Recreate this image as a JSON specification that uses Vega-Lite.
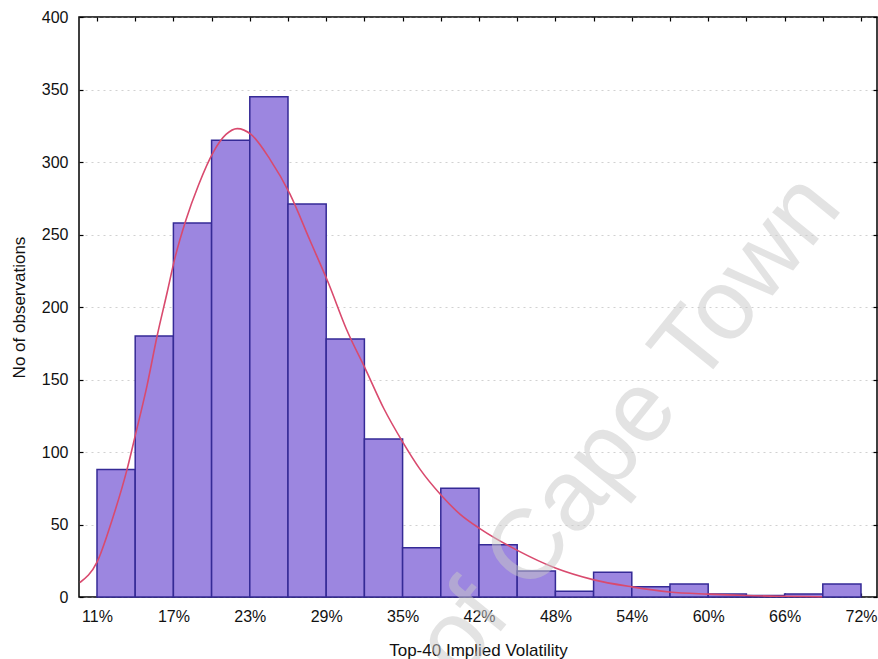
{
  "$schema": "https://vega.github.io/schema/vega-lite/v6.json",
  "width": 798,
  "height": 580,
  "autosize": {"type": "none"},
  "padding": {"left": 79, "top": 17, "right": 1, "bottom": 62},
  "background": "white",
  "config": {
    "font": "Liberation Sans",
    "view": {"stroke": "#000000", "strokeWidth": 1.5},
    "axis": {
      "labelFont": "Liberation Sans",
      "titleFont": "Liberation Sans",
      "labelFontSize": 16,
      "titleFontSize": 17,
      "titleFontWeight": "normal",
      "labelColor": "#111111",
      "titleColor": "#111111",
      "domain": false,
      "tickColor": "#000000",
      "tickWidth": 1.2
    }
  },
  "datasets": {
    "bars": [
      {"start": 11.00, "end": 14.05, "count": 88},
      {"start": 14.05, "end": 17.10, "count": 180},
      {"start": 17.10, "end": 20.15, "count": 258},
      {"start": 20.15, "end": 23.20, "count": 315},
      {"start": 23.20, "end": 26.25, "count": 345},
      {"start": 26.25, "end": 29.30, "count": 271},
      {"start": 29.30, "end": 32.35, "count": 178},
      {"start": 32.35, "end": 35.40, "count": 109},
      {"start": 35.40, "end": 38.45, "count": 34},
      {"start": 38.45, "end": 41.50, "count": 75},
      {"start": 41.50, "end": 44.55, "count": 36},
      {"start": 44.55, "end": 47.60, "count": 18},
      {"start": 47.60, "end": 50.65, "count": 4},
      {"start": 50.65, "end": 53.70, "count": 17},
      {"start": 53.70, "end": 56.75, "count": 7},
      {"start": 56.75, "end": 59.80, "count": 9},
      {"start": 59.80, "end": 62.85, "count": 2},
      {"start": 62.85, "end": 65.90, "count": 1},
      {"start": 65.90, "end": 68.95, "count": 2},
      {"start": 68.95, "end": 72.00, "count": 9}
    ],
    "curve": [
      {"vol": 9.64, "fit": 10},
      {"vol": 11.0, "fit": 24},
      {"vol": 12.2, "fit": 53},
      {"vol": 13.4, "fit": 88},
      {"vol": 14.1, "fit": 113},
      {"vol": 15.0, "fit": 146},
      {"vol": 15.8, "fit": 180},
      {"vol": 16.6, "fit": 210},
      {"vol": 17.2, "fit": 233},
      {"vol": 18.1, "fit": 260},
      {"vol": 19.1, "fit": 284},
      {"vol": 20.3, "fit": 307},
      {"vol": 21.3, "fit": 319},
      {"vol": 22.2, "fit": 323},
      {"vol": 23.3, "fit": 319},
      {"vol": 24.8, "fit": 302},
      {"vol": 26.4, "fit": 278},
      {"vol": 28.0, "fit": 246},
      {"vol": 29.5, "fit": 216},
      {"vol": 30.9, "fit": 185},
      {"vol": 32.5, "fit": 156},
      {"vol": 33.9, "fit": 130},
      {"vol": 35.4, "fit": 107},
      {"vol": 36.8, "fit": 88},
      {"vol": 38.5, "fit": 70},
      {"vol": 40.0, "fit": 57},
      {"vol": 41.6, "fit": 47},
      {"vol": 44.6, "fit": 32},
      {"vol": 47.6, "fit": 20},
      {"vol": 50.6, "fit": 12},
      {"vol": 53.7, "fit": 7},
      {"vol": 56.7, "fit": 3.5},
      {"vol": 59.8, "fit": 2},
      {"vol": 62.8, "fit": 1},
      {"vol": 65.9, "fit": 0.5},
      {"vol": 68.9, "fit": 0.2}
    ],
    "mark": [
      {"wx": 43.6, "wy": -20, "label": "University of Cape Town"}
    ]
  },
  "resolve": {"axis": {"x": "independent", "y": "independent"}},
  "layer": [
    {
      "data": {"name": "bars"},
      "mark": {"type": "rect", "fill": "#9c86e0", "stroke": "#352a96", "strokeWidth": 1.5},
      "encoding": {
        "x": {
          "field": "start", "type": "quantitative",
          "scale": {"domain": [9.563, 73.278], "nice": false, "zero": false},
          "axis": {
            "orient": "bottom",
            "title": "Top-40 Implied Volatility",
            "values": [11, 17.1, 23.2, 29.3, 35.4, 41.5, 47.6, 53.7, 59.8, 65.9, 72],
            "labelExpr": "format(round(datum.value), 'd') + '%'",
            "labelFlush": false,
            "labelOverlap": false,
            "tickSize": -4,
            "labelPadding": 15,
            "titlePadding": 18,
            "grid": false
          }
        },
        "x2": {"field": "end"},
        "y": {
          "field": "count", "type": "quantitative",
          "scale": {"domain": [0, 400], "nice": false},
          "axis": {
            "orient": "left",
            "title": "No of observations",
            "values": [0, 50, 100, 150, 200, 250, 300, 350, 400],
            "tickSize": -4,
            "labelPadding": 15,
            "titlePadding": 13,
            "grid": true,
            "gridColor": "#9a9a9a",
            "gridDash": [2, 4],
            "gridOpacity": 0.45,
            "gridWidth": 1
          }
        },
        "y2": {"datum": 0}
      }
    },
    {
      "data": {"name": "curve"},
      "mark": {"type": "line", "color": "#d94a6e", "strokeWidth": 1.6, "interpolate": "monotone"},
      "encoding": {
        "x": {
          "field": "vol", "type": "quantitative",
          "scale": {"domain": [9.563, 73.278], "nice": false, "zero": false},
          "axis": {
            "orient": "top",
            "title": null,
            "labels": false,
            "values": [11, 14.05, 17.1, 20.15, 23.2, 26.25, 29.3, 32.35, 35.4, 38.45, 41.5, 44.55, 47.6, 50.65, 53.7, 56.75, 59.8, 62.85, 65.9, 68.95, 72],
            "tickSize": -4,
            "grid": false
          }
        },
        "y": {
          "field": "fit", "type": "quantitative",
          "scale": {"domain": [0, 400], "nice": false},
          "axis": {
            "orient": "right",
            "title": null,
            "labels": false,
            "values": [0, 50, 100, 150, 200, 250, 300, 350, 400],
            "tickSize": -4,
            "grid": false
          }
        }
      }
    },
    {
      "data": {"name": "mark"},
      "mark": {"type": "text", "fontSize": 100, "angle": -51, "align": "center", "baseline": "alphabetic", "fill": "#c8c8c8", "opacity": 0.5, "font": "Liberation Sans"},
      "encoding": {
        "x": {"field": "wx", "type": "quantitative", "scale": {"domain": [9.563, 73.278], "nice": false, "zero": false}, "axis": null},
        "y": {"field": "wy", "type": "quantitative", "scale": {"domain": [0, 400], "nice": false}, "axis": null},
        "text": {"field": "label"}
      }
    }
  ]
}
